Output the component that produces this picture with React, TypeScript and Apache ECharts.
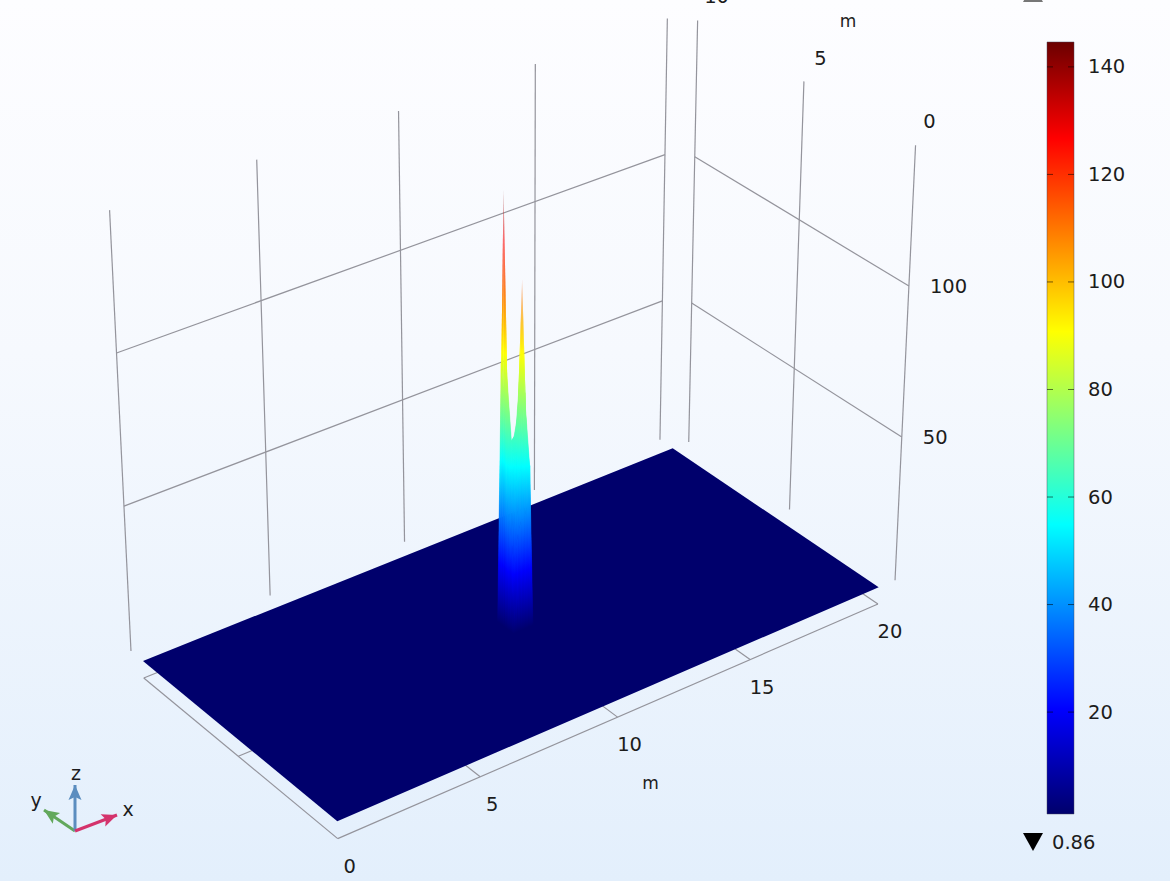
import React, { useEffect, useRef } from "react";
import * as echarts from "echarts";

const xTicks = [0, 5, 10, 15, 20];
const yTicks = [0, 5, 10];
const zTicks = [50, 100];
const barTicks = [20, 40, 60, 80, 100, 120, 140];
const zMin = 0.86;
const zMax = 145;
const barTop = 144.63;

const xNodes = [0, 9.64, 9.72, 9.8, 9.9, 10, 10.1, 10.2, 10.3, 10.37, 20];
const yNodes = [0, 4.6, 4.68, 4.8, 4.92, 5.04, 5.16, 5.28, 5.38, 10];
const f = zMin;
const zValues = [
  [f, f, f, f, f, f, f, f, f, f, f],
  [f, f, f, f, f, f, f, f, f, f, f],
  [f, f, 24, 30, 35, 38, 38, 42, 55, f, f],
  [f, f, 32, 44, 50, 52, 56, 78, 58, f, f],
  [f, f, 38, 50, 56, 60, 74, 115, 78, f, f],
  [f, f, 46, 60, 63, 64, 63, 82, 62, f, f],
  [f, f, 144, 88, 62, 58, 58, 62, 55, f, f],
  [f, f, 88, 80, 60, 52, 50, 50, 45, f, f],
  [f, f, f, f, f, f, f, f, f, f, f],
  [f, f, f, f, f, f, f, f, f, f, f],
];

const jetStops: [number, string][] = [
  [0, "#00006c"],
  [0.136, "#0000ff"],
  [0.375, "#00ffff"],
  [0.5, "#7fff7f"],
  [0.625, "#ffff00"],
  [0.875, "#ff0000"],
  [1, "#6c0000"],
];

const backY = 10.65;
const rightX = 20.65;
const frameZ = -5;

// camera calibration: world point -> picture point
const calibration: number[][] = [
  [0, 0, zMin, 337, 820],
  [0, 10, zMin, 143, 661],
  [20, 0, zMin, 878, 588],
  [20, 10, zMin, 673, 450],
  [0, backY, zMin, 132, 652],
  [0, backY, zMax, 109, 210],
  [5, backY, zMin, 270, 595],
  [5, backY, zMax, 257, 160],
  [10, backY, zMin, 404, 541],
  [10, backY, zMax, 399, 111],
  [15, backY, zMin, 534, 490],
  [15, backY, zMax, 535, 65],
  [20, backY, zMin, 660, 438],
  [20, backY, zMax, 666, 18],
  [rightX, 0, zMin, 895, 580],
  [rightX, 0, zMax, 916, 146],
  [rightX, 5, zMin, 790, 510],
  [rightX, 5, zMax, 805, 82],
  [rightX, 10, zMin, 688, 440],
  [rightX, 10, zMax, 698, 22],
  [0, backY, 100, 116, 352],
  [20, backY, 100, 664, 155],
  [0, backY, 50, 123, 505],
  [20, backY, 50, 663, 301],
  [rightX, 0, 100, 909, 284],
  [rightX, 10, 100, 695, 155],
  [rightX, 0, 50, 902, 436],
  [rightX, 10, 50, 693, 304],
  [0, 0, frameZ, 338, 839],
  [0, 10, frameZ, 145, 680],
  [20, 0, frameZ, 877, 606],
];

function fitCamera(pts: number[][]) {
  const n = 11;
  const M = Array.from({ length: n }, () => new Array(n + 1).fill(0));
  const add = (r: number[], b: number) => {
    for (let i = 0; i < n; i++) {
      for (let j = 0; j < n; j++) M[i][j] += r[i] * r[j];
      M[i][n] += r[i] * b;
    }
  };
  for (const p of pts) {
    const X = p[0] / 20, Y = p[1] / 10, Z = p[2] / 145, u = p[3] / 1000, v = p[4] / 1000;
    add([X, Y, Z, 1, 0, 0, 0, 0, -u * X, -u * Y, -u * Z], u);
    add([0, 0, 0, 0, X, Y, Z, 1, -v * X, -v * Y, -v * Z], v);
  }
  for (let c = 0; c < n; c++) {
    let best = c;
    for (let r = c + 1; r < n; r++) if (Math.abs(M[r][c]) > Math.abs(M[best][c])) best = r;
    [M[c], M[best]] = [M[best], M[c]];
    for (let r = 0; r < n; r++) {
      if (r === c) continue;
      const k = M[r][c] / M[c][c];
      for (let j = c; j <= n; j++) M[r][j] -= k * M[c][j];
    }
  }
  return M.map((row, i) => row[n] / row[i]);
}
const cam = fitCamera(calibration);
function project(x: number, y: number, z: number): [number, number] {
  const X = x / 20, Y = y / 10, Z = z / 145;
  const w = cam[8] * X + cam[9] * Y + cam[10] * Z + 1;
  return [
    (1000 * (cam[0] * X + cam[1] * Y + cam[2] * Z + cam[3])) / w,
    (1000 * (cam[4] * X + cam[5] * Y + cam[6] * Z + cam[7])) / w,
  ];
}

function hex(c: string) {
  return [1, 3, 5].map((i) => parseInt(c.slice(i, i + 2), 16));
}
function jetRgb(t: number) {
  const v = Math.max(0, Math.min(1, t));
  for (let i = 1; i < jetStops.length; i++) {
    if (v <= jetStops[i][0]) {
      const a = jetStops[i - 1], b = jetStops[i];
      const k = (v - a[0]) / (b[0] - a[0]);
      const A = hex(a[1]), B = hex(b[1]);
      return A.map((q, m) => Math.round(q + (B[m] - q) * k));
    }
  }
  return hex(jetStops[jetStops.length - 1][1]);
}
function jet(t: number, alpha = 1) {
  return `rgba(${jetRgb(t).join(",")},${alpha})`;
}
const norm = (z: number) => (z - zMin) / (zMax - zMin);

// Surface: flat plate first, then the raised triangles, farthest first.
type Tri = { v: number[][]; depth: number };
const triangles: Tri[] = [];
for (let j = 0; j < yNodes.length - 1; j++) {
  for (let i = 0; i < xNodes.length - 1; i++) {
    const a = [xNodes[i], yNodes[j], zValues[j][i]];
    const b = [xNodes[i + 1], yNodes[j], zValues[j][i + 1]];
    const c = [xNodes[i + 1], yNodes[j + 1], zValues[j + 1][i + 1]];
    const d = [xNodes[i], yNodes[j + 1], zValues[j + 1][i]];
    if (Math.max(a[2], b[2], c[2], d[2]) === zMin) continue;
    const depth = 11.6 * (a[0] + b[0]) * 0.5 + 15.9 * (a[1] + d[1]) * 0.5;
    const az = Math.abs(a[2] - c[2]), bz = Math.abs(b[2] - d[2]);
    if (az >= bz) {
      triangles.push({ v: [a, c, d], depth: depth + 0.01 });
      triangles.push({ v: [a, b, c], depth: depth - 0.01 });
    } else {
      triangles.push({ v: [b, c, d], depth: depth + 0.01 });
      triangles.push({ v: [a, b, d], depth: depth - 0.01 });
    }
  }
}
triangles.sort((p, q) => q.depth - p.depth);
const last = xNodes.length - 1;
const lastY = yNodes.length - 1;
triangles.unshift({
  v: [
    [xNodes[0], yNodes[0], zMin],
    [xNodes[last], yNodes[0], zMin],
    [xNodes[last], yNodes[lastY], zMin],
    [xNodes[0], yNodes[lastY], zMin],
  ],
  depth: 1e9,
});

function isApex(zs: number[]) {
  const s = [...zs].sort((a, b) => a - b);
  return s[2] > 100 && s[2] - s[1] > 20;
}

function triFill(pts: number[][], zs: number[]) {
  const [l, m, h] = [0, 1, 2].sort((p, q) => zs[p] - zs[q]);
  const zl = zs[l], zh = zs[h];
  if (zh - zl < 0.01) return jet(norm(zl));
  const t = (zs[m] - zl) / (zh - zl);
  const qx = pts[l][0] + t * (pts[h][0] - pts[l][0]);
  const qy = pts[l][1] + t * (pts[h][1] - pts[l][1]);
  let ix = pts[m][0] - qx, iy = pts[m][1] - qy;
  const len = Math.hypot(ix, iy);
  let dx = pts[h][0] - pts[l][0], dy = pts[h][1] - pts[l][1];
  if (len > 1e-6) {
    ix /= len; iy /= len;
    const along = dx * ix + dy * iy;
    dx -= along * ix; dy -= along * iy;
  }
  const tl = norm(zl), th = norm(zh);
  // The thin tip of a spike fades out, as a sliver narrower than a pixel does.
  const apex = isApex(zs);
  const fadeFrom = apex ? zs[m] + (zh - zs[m]) * 0.2 : Infinity;
  const alphaAt = (z: number) =>
    z <= fadeFrom ? 1 : 1 - 0.85 * ((z - fadeFrom) / (zh - fadeFrom));
  const offsets = new Set<number>([0, 1]);
  for (const s of jetStops) if (s[0] > tl && s[0] < th) offsets.add((s[0] - tl) / (th - tl));
  if (apex) {
    for (let k = 0; k <= 6; k++) offsets.add((fadeFrom + ((zh - fadeFrom) * k) / 6 - zl) / (zh - zl));
  }
  const stops = [...offsets].sort((a, b) => a - b).map((o) => {
    const z = zl + o * (zh - zl);
    return { offset: o, color: jet(norm(z), alphaAt(z)) };
  });
  return {
    type: "linear", global: true,
    x: pts[l][0], y: pts[l][1], x2: pts[l][0] + dx, y2: pts[l][1] + dy,
    colorStops: stops,
  };
}

// Frame lines: [x1,y1,z1,x2,y2,z2]
const segments: number[][] = [];
for (const x of xTicks) segments.push([x, backY, zMin, x, backY, zMax]);
for (const y of yTicks) segments.push([rightX, y, zMin, rightX, y, zMax]);
for (const z of zTicks) {
  segments.push([0, backY, z, 20, backY, z]);
  segments.push([rightX, 0, z, rightX, 10, z]);
}
for (const x of xTicks) segments.push([x, 0, frameZ, x, 10, frameZ]);
for (const y of yTicks) segments.push([0, y, frameZ, 20, y, frameZ]);

const FONT = '"DejaVu Sans"';
const TEXT = "#1c1c1c";
// [text, x, y, z, dx, dy, size, align]
const labels: any[][] = [
  ...xTicks.map((x) => [String(x), x, 0, frameZ, 12, 27.5, 19.5, "center"]),
  ...yTicks.map((y, i) => [String(y), rightX, y, zMax, 14 + 0.5 * y, [-24, -23, -24.5][i], 19.5, "center"]),
  ...zTicks.map((z) => [String(z), rightX, 0, z, 21, 0.5, 19.5, "left"]),
  ["m", 10, 0, frameZ, 33, 66, 17, "center"],
  ["m", rightX, 5, zMax, 44, -60, 17, "center"],
];

const surfaceData = triangles.map((_, i) => [i]);

function arrowHead(x0: number, y0: number, x1: number, y1: number, len: number, half: number) {
  const L = Math.hypot(x1 - x0, y1 - y0);
  const ux = (x1 - x0) / L, uy = (y1 - y0) / L;
  return [
    [x1, y1],
    [x1 - ux * len - uy * half, y1 - uy * len + ux * half],
    [x1 - ux * len * 0.8, y1 - uy * len * 0.8],
    [x1 - ux * len + uy * half, y1 - uy * len - ux * half],
  ];
}

const triad = [
  { to: [44, 810], color: "#62a85c" },
  { to: [75, 785], color: "#5b8dbf" },
  { to: [117, 815], color: "#d4336c" },
];

export default function App() {
  const ref = useRef<HTMLDivElement>(null);
  useEffect(() => {
    document.body.style.margin = "0";
    const chart = echarts.init(ref.current!, null, { renderer: "svg" });
    const barGradient = {
      type: "linear", x: 0, y: 1, x2: 0, y2: 0,
      colorStops: jetStops.map((s) => ({ offset: s[0], color: s[1] })),
    };
    chart.setOption({
      animation: false,
      backgroundColor: {
        type: "linear", x: 0, y: 0, x2: 0, y2: 1,
        colorStops: [
          { offset: 0, color: "#fdfdff" },
          { offset: 0.4, color: "#f6f9fe" },
          { offset: 1, color: "#e3effc" },
        ],
      },
      grid: [
        { left: 0, top: 0, width: 1170, height: 881 },
        { left: 1047, top: 40, width: 27, height: 775 },
      ],
      xAxis: [
        { type: "value", min: 0, max: 1170, show: false, gridIndex: 0 },
        { type: "value", min: 0, max: 1, show: false, gridIndex: 1 },
      ],
      yAxis: [
        { type: "value", min: 0, max: 881, inverse: true, show: false, gridIndex: 0 },
        {
          type: "value", min: zMin, max: zMax, gridIndex: 1, position: "right",
          axisLine: { show: false }, axisTick: { show: false }, splitLine: { show: false },
          axisLabel: {
            customValues: barTicks, margin: 14, color: TEXT, fontSize: 19.5, fontFamily: FONT,
          },
        },
      ],
      series: [
        {
          type: "custom", xAxisIndex: 0, yAxisIndex: 0, clip: false, silent: true,
          data: segments,
          encode: { x: [], y: [] },
          renderItem: (p: any, api: any) => {
            const s = segments[p.dataIndex];
            const a = api.coord(project(s[0], s[1], s[2]));
            const b = api.coord(project(s[3], s[4], s[5]));
            return {
              type: "line",
              shape: { x1: a[0], y1: a[1], x2: b[0], y2: b[1] },
              style: { stroke: "#94949c", lineWidth: 1.2, fill: "none" },
            };
          },
        },
        {
          type: "custom", xAxisIndex: 0, yAxisIndex: 0, clip: false, silent: true,
          data: surfaceData,
          encode: { x: [], y: [] },
          renderItem: (p: any, api: any) => {
            const t = triangles[p.dataIndex];
            const zs = t.v.map((w) => w[2]);
            const pts = t.v.map((w) => api.coord(project(w[0], w[1], w[2])));
            const fill = triFill(pts, zs);
            const bare = typeof fill === "string" || isApex(zs);
            return {
              type: "polygon",
              shape: { points: pts },
              style: bare ? { fill } : { fill, stroke: fill, lineWidth: 0.3 },
            };
          },
        },
        {
          type: "custom", xAxisIndex: 0, yAxisIndex: 0, clip: false, silent: true,
          data: labels.map((l) => [l[1], l[2], l[3]]),
          encode: { x: [], y: [] },
          renderItem: (p: any, api: any) => {
            const l = labels[p.dataIndex];
            const q = api.coord(project(l[1], l[2], l[3]));
            return {
              type: "text",
              style: {
                x: q[0] + l[4], y: q[1] + l[5], text: l[0], fill: TEXT,
                font: `${l[6]}px ${FONT}`, align: l[7], verticalAlign: "middle",
              },
            };
          },
        },
        {
          type: "custom", xAxisIndex: 1, yAxisIndex: 1, clip: false, silent: true,
          data: [[0, zMin, barTop]],
          encode: { x: 0, y: [1, 2] },
          renderItem: (_: any, api: any) => {
            const a = api.coord([0, barTop]);
            const b = api.coord([1, zMin]);
            const bottom = b[1] - 1;
            const children: any[] = [
              {
                type: "rect",
                shape: { x: a[0], y: a[1], width: b[0] - a[0], height: bottom - a[1] },
                style: { fill: barGradient, stroke: "rgba(70,70,90,0.45)", lineWidth: 1 },
              },
            ];
            for (const v of barTicks) {
              const c = api.coord([0, v]);
              const opts = { stroke: "rgba(0,0,0,0.55)", lineWidth: 1 };
              children.push({ type: "line", shape: { x1: a[0], y1: c[1], x2: a[0] + 6, y2: c[1] }, style: opts });
              children.push({ type: "line", shape: { x1: b[0] - 6, y1: c[1], x2: b[0], y2: c[1] }, style: opts });
            }
            return { type: "group", children };
          },
        },
      ],
      graphic: [
        ...triad.flatMap((a) => [
          {
            type: "line",
            shape: { x1: 75, y1: 831, x2: a.to[0], y2: a.to[1] },
            style: { stroke: a.color, lineWidth: 3 },
          },
          {
            type: "polygon",
            shape: { points: arrowHead(75, 831, a.to[0], a.to[1], 15, 6.5) },
            style: { fill: a.color },
          },
        ]),
        { type: "text", x: 76, y: 773, style: { text: "z", font: `19px ${FONT}`, fill: TEXT, align: "center", verticalAlign: "middle" } },
        { type: "text", x: 128, y: 809, style: { text: "x", font: `19px ${FONT}`, fill: TEXT, align: "center", verticalAlign: "middle" } },
        { type: "text", x: 36, y: 800, style: { text: "y", font: `19px ${FONT}`, fill: TEXT, align: "center", verticalAlign: "middle" } },
        { type: "polygon", shape: { points: [[1023, 833], [1043, 833], [1033, 851]] }, style: { fill: "#000" } },
        { type: "text", x: 1052, y: 842, style: { text: "0.86", font: `19.5px ${FONT}`, fill: TEXT, verticalAlign: "middle" } },
        { type: "polygon", shape: { points: [[1023, 2], [1043, 2], [1033, -16]] }, style: { fill: "#777" } },
        { type: "text", x: 1052, y: -8, style: { text: "145", font: `19.5px ${FONT}`, fill: TEXT, verticalAlign: "middle" } },
      ],
    });
    return () => chart.dispose();
  }, []);
  return <div ref={ref} style={{ width: 1170, height: 881, position: "absolute", left: 0, top: 0 }} />;
}
